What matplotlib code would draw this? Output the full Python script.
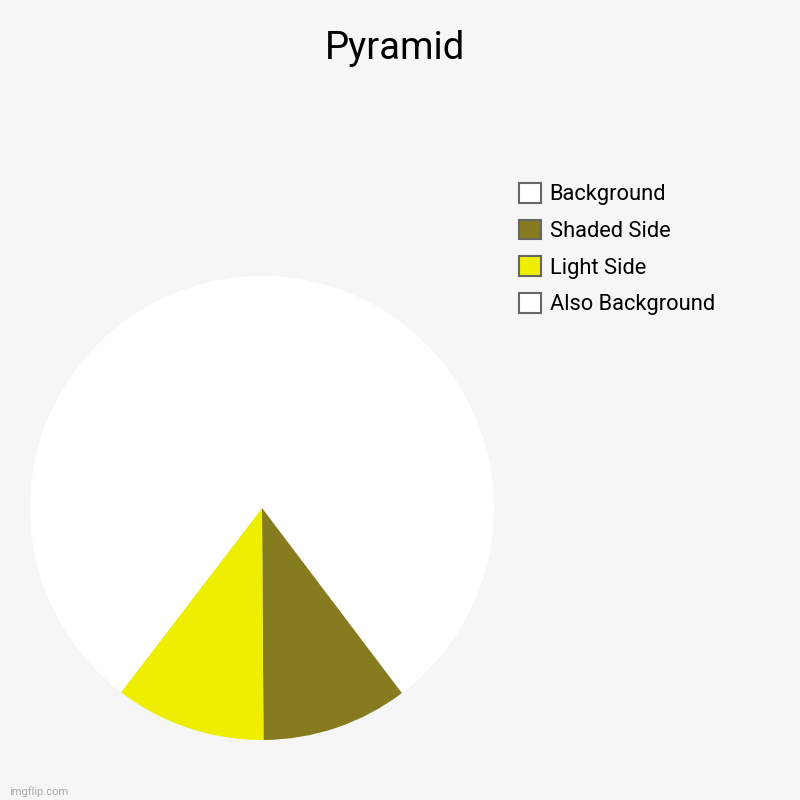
import matplotlib
matplotlib.use("Agg")
import matplotlib.pyplot as plt
from matplotlib.patches import Patch

plt.rcParams['font.family'] = ['Roboto', 'DejaVu Sans']

labels = ["Background", "Shaded Side", "Light Side", "Also Background"]
values = [39.7, 10.2, 10.5, 39.6]
colors = ["#ffffff", "#877b1f", "#eeee00", "#ffffff"]

bg = "#f6f6f6"
fig = plt.figure(figsize=(8, 8), dpi=100, facecolor=bg)

# pie area: centre (262, 508) px, radius 232 px
ax = fig.add_axes([30 / 800, 60 / 800, 464 / 800, 464 / 800])
ax.set_facecolor(bg)
ax.pie(values, colors=colors, startangle=90, counterclock=False,
       radius=1, wedgeprops=dict(linewidth=0))
ax.set_xlim(-1, 1)
ax.set_ylim(-1, 1)
ax.set_aspect("equal")
ax.axis("off")

fig.text(0.494, 1 - 59 / 800, "Pyramid", ha="center", va="baseline",
         fontsize=27.5, color="#000000")

handles = [Patch(facecolor=c, edgecolor="#666666", linewidth=1.5) for c in colors]
fig.legend(handles, labels, loc="upper left",
           bbox_to_anchor=(519 / 800, 1 - 183 / 800),
           frameon=False, fontsize=15.75, handlelength=1.0, handleheight=1.0,
           handletextpad=0.4, labelspacing=0.66, borderpad=0, borderaxespad=0)

fig.text(0.012, 0.006, "imgflip.com", fontsize=8, color="#aaaaaa")

fig.savefig("out.png", facecolor=bg)
